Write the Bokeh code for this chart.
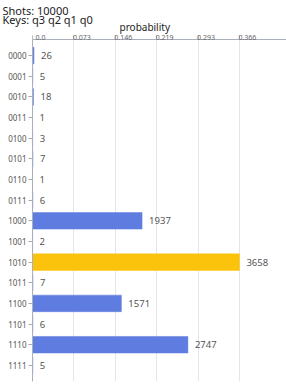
from bokeh.plotting import figure
from bokeh.models import ColumnDataSource, FactorRange, Range1d, FixedTicker, Title, LinearAxis
from bokeh.embed import file_html
from bokeh.resources import INLINE
from bokeh.core.properties import value

shots = 10000
qubit_keys = "q3 q2 q1 q0"
keys = ["0000", "0001", "0010", "0011", "0100", "0101", "0110", "0111",
        "1000", "1001", "1010", "1011", "1100", "1101", "1110", "1111"]
counts = [26, 5, 18, 1, 3, 7, 1, 6, 1937, 2, 3658, 7, 1571, 6, 2747, 5]
tick_values = [0.0, 0.0732, 0.1463, 0.2195, 0.2926, 0.3658]
tick_labels = ["0.0", "0.073", "0.146", "0.219", "0.293", "0.366"]
highlight_key = "1010"

blue = "#5f7de0"
gold = "#fbc30c"
FONT = "Noto Sans"
LEFT = 32
FW, FH = 254, 342
XMAX = 0.449
PAD = 0.035
LABEL_SHIFT_PX = 8

probs = [c / shots for c in counts]
colors = [gold if k == highlight_key else blue for k in keys]
src = ColumnDataSource(dict(key=keys, prob=probs, count=[str(c) for c in counts], color=colors))

p = figure(frame_width=FW, frame_height=FH, output_backend="svg", toolbar_location=None,
           y_range=FactorRange(factors=keys[::-1], range_padding=PAD),
           x_range=Range1d(0, XMAX), x_axis_location=None,
           min_border_left=LEFT, min_border_right=0, min_border_bottom=8, min_border_top=0)
p.outline_line_color = None
p.title = None

shift = LABEL_SHIFT_PX * XMAX / FW
p.extra_x_ranges = {"labels": Range1d(-shift, XMAX - shift)}

p.hbar(y="key", right="prob", height=0.8, color="color", line_color="color",
       line_alpha=0.5, source=src)
p.text(x="prob", y="key", text="count", source=src, x_offset=7,
       text_baseline="middle", text_font_size="9.5px", text_color="#555555",
       text_font=value(FONT))

# tick marks + axis line (ticks as minor ticks, so no labels are drawn here)
xa = LinearAxis(ticker=FixedTicker(ticks=[], minor_ticks=tick_values))
xa.major_tick_in = 0
xa.major_tick_out = 0
xa.minor_tick_in = 0
xa.minor_tick_out = 4
xa.minor_tick_line_color = "#b5b9c2"
xa.axis_line_color = "#aab0bb"
p.add_layout(xa, "above")

# tick labels, set just right of each tick
xl = LinearAxis(ticker=FixedTicker(ticks=tick_values), x_range_name="labels")
xl.major_label_overrides = {t: l for t, l in zip(tick_values, tick_labels)}
xl.major_tick_line_color = None
xl.minor_tick_line_color = None
xl.axis_line_color = None
xl.major_tick_in = 0
xl.major_tick_out = 0
xl.major_label_text_font = FONT
xl.major_label_text_font_size = "7px"
xl.major_label_text_color = "#666666"
xl.major_label_standoff = -4
p.add_layout(xl, "above")

p.xgrid.ticker = FixedTicker(ticks=tick_values)
p.xgrid.grid_line_color = "#e3e5ea"
p.ygrid.grid_line_color = None

ya = p.yaxis[0]
ya.major_label_text_font = FONT
ya.major_label_text_font_size = "8px"
ya.major_label_text_color = "#555555"
ya.major_tick_in = 0
ya.major_tick_out = 4
ya.major_tick_line_color = "#aaaaaa"
ya.axis_line_color = "#aab0bb"
ya.major_label_standoff = 2

p.add_layout(Title(text="probability", align="left", offset=119 - LEFT, text_font=FONT,
                   text_font_size="10px", text_font_style="normal", text_color="#222222",
                   standoff=-4), "above")
p.add_layout(Title(text="Keys: " + qubit_keys, align="left", offset=2 - LEFT, text_font=FONT,
                   text_font_size="11px", text_font_style="normal", text_color="#222222",
                   standoff=-15), "above")
p.add_layout(Title(text="Shots: " + str(shots), align="left", offset=2 - LEFT, text_font=FONT,
                   text_font_size="11px", text_font_style="normal", text_color="#222222",
                   standoff=0), "above")

open("out.html", "w").write(file_html(p, INLINE))
